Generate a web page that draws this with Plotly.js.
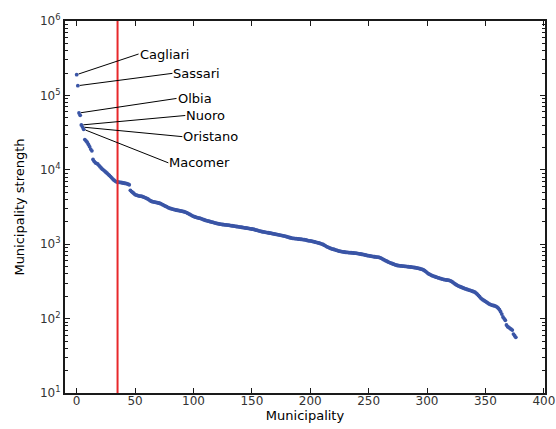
<!DOCTYPE html>
<html>
<head>
<meta charset="utf-8">
<script src="https://cdn.plot.ly/plotly-3.0.1.min.js"></script>
<style>html,body{margin:0;padding:0;background:#fff;}#chart{width:556px;height:429px;}</style>
</head>
<body>
<div id="chart"></div>
<script>
// Municipality strength, sorted in decreasing order (index = rank)
const strength = [
  190000, 135000, 58000, 54000, 40000, 37500, 35000, 25500, 24500, 23500,
  22000, 20500, 19000, 18000, 13800, 13000, 12400, 12200, 12000, 11500,
  11000, 10600, 10200, 9900, 9600, 9300, 9000, 8700, 8400, 8100,
  7800, 7500, 7250, 7050, 6900, 6850, 6800, 6780, 6750, 6700,
  6650, 6600, 6550, 6500, 6400, 6300, 5300, 5100, 4950, 4800,
  4650, 4580, 4520, 4470, 4440, 4420, 4380, 4320, 4260, 4200,
  4120, 4050, 3950, 3850, 3780, 3730, 3700, 3670, 3640, 3610,
  3580, 3550, 3500, 3440, 3370, 3300, 3240, 3190, 3130, 3070,
  3030, 3000, 2970, 2940, 2910, 2880, 2860, 2840, 2820, 2800,
  2780, 2760, 2730, 2700, 2660, 2610, 2560, 2510, 2460, 2410,
  2370, 2340, 2310, 2280, 2260, 2240, 2220, 2190, 2160, 2130,
  2100, 2080, 2060, 2040, 2020, 2000, 1980, 1960, 1940, 1920,
  1900, 1890, 1870, 1860, 1850, 1840, 1830, 1820, 1815, 1810,
  1800, 1790, 1780, 1770, 1760, 1750, 1740, 1730, 1720, 1710,
  1700, 1690, 1680, 1670, 1660, 1650, 1640, 1630, 1620, 1610,
  1600, 1590, 1575, 1560, 1545, 1530, 1515, 1500, 1485, 1470,
  1465, 1455, 1445, 1435, 1425, 1415, 1405, 1395, 1385, 1375,
  1365, 1355, 1345, 1335, 1325, 1315, 1305, 1295, 1285, 1275,
  1260, 1245, 1230, 1220, 1210, 1200, 1195, 1190, 1185, 1180,
  1175, 1170, 1165, 1160, 1155, 1150, 1140, 1130, 1120, 1110,
  1110, 1100, 1090, 1080, 1070, 1060, 1050, 1040, 1030, 1020,
  1005, 990, 970, 950, 930, 915, 900, 885, 870, 860,
  855, 845, 835, 825, 815, 805, 800, 795, 790, 785,
  780, 778, 775, 772, 770, 767, 765, 762, 760, 757,
  753, 748, 743, 738, 733, 728, 722, 716, 710, 704,
  700, 695, 690, 686, 682, 678, 675, 672, 669, 665,
  655, 645, 632, 620, 608, 596, 585, 575, 566, 558,
  550, 542, 534, 527, 521, 517, 514, 512, 510, 508,
  506, 504, 502, 500, 498, 496, 494, 492, 489, 486,
  483, 480, 476, 472, 468, 463, 458, 450, 440, 428,
  415, 403, 395, 388, 381, 375, 370, 365, 360, 356,
  352, 348, 344, 340, 337, 334, 332, 330, 328, 326,
  322, 316, 308, 300, 292, 285, 279, 274, 270, 266,
  262, 258, 254, 251, 248, 245, 242, 239, 236, 233,
  230, 226, 220, 213, 205, 197, 189, 183, 178, 174,
  170, 166, 162, 158, 155, 153, 151, 150, 148, 146,
  143, 138, 132, 124, 115, 105, 100, 95, 82, 78,
  76, 74, 72, 70, 62, 59, 56
];
const rank = strength.map((v, i) => i);

// Labelled municipalities: rank index and label anchor (data coords)
const labelNames = ["Cagliari", "Sassari", "Olbia", "Nuoro", "Oristano", "Macomer"];
const labelRank  = [0, 1, 2, 4, 5, 6];
const labelX     = [53, 82, 85.5, 93, 90.5, 78.5];
const labelY     = [360000, 198000, 91000, 53700, 27900, 12400];

// Threshold line
const thresholdX = 35;

const yTickVals = [10, 100, 1000, 10000, 100000, 1000000];
const yTickText = ["10<sup>1</sup>", "10<sup>2</sup>", "10<sup>3</sup>", "10<sup>4</sup>", "10<sup>5</sup>", "10<sup>6</sup>"];
const yMinorVals = [];
for (let d = 10; d < 1000000; d *= 10) for (let m = 2; m <= 9; m++) yMinorVals.push(d * m);
const xTickVals = [0, 50, 100, 150, 200, 250, 300, 350, 400];

const traces = [
  {
    x: rank, y: strength, type: "scatter", mode: "markers",
    marker: {color: "#3a55a6", size: 3.8, line: {width: 0}},
    hoverinfo: "x+y"
  },
  {
    x: [thresholdX, thresholdX], y: [10, 1000000], type: "scatter", mode: "lines",
    line: {color: "#e8282b", width: 2}, hoverinfo: "skip"
  }
];

const annotations = labelNames.map((name, i) => ({
  x: labelRank[i], y: Math.log10(strength[labelRank[i]]),
  xref: "x", yref: "y",
  ax: labelX[i], ay: Math.log10(labelY[i]),
  axref: "x", ayref: "y",
  text: name, showarrow: true, arrowhead: 0, arrowwidth: 1, arrowcolor: "#000",
  xanchor: "left", yanchor: "middle", standoff: 2, borderpad: 0,
  font: {family: "DejaVu Sans, sans-serif", size: 13, color: "#000"}
}));

const axisCommon = {
  showline: true, linecolor: "#1a1a1a", linewidth: 2, mirror: "allticks",
  ticks: "inside", ticklen: 5, tickwidth: 1, tickcolor: "#1a1a1a",
  showgrid: false, zeroline: false,
  tickfont: {family: "DejaVu Sans, sans-serif", size: 12, color: "#333"}
};

const layout = {
  width: 556, height: 429,
  margin: {l: 65, r: 11, t: 21, b: 36},
  paper_bgcolor: "#fff", plot_bgcolor: "#fff",
  showlegend: false,
  xaxis: Object.assign({}, axisCommon, {
    range: [-10, 401], tickvals: xTickVals, ticklabelstandoff: -4,
    title: {text: "Municipality", standoff: 0, font: {family: "DejaVu Sans, sans-serif", size: 13, color: "#000"}}
  }),
  yaxis: Object.assign({}, axisCommon, {
    type: "log", range: [1, 6], tickvals: yTickVals, ticktext: yTickText,
    minor: {tickmode: "array", tickvals: yMinorVals, ticks: "inside", ticklen: 3, tickcolor: "#1a1a1a", showgrid: false},
    title: {text: "Municipality strength", standoff: 12, font: {family: "DejaVu Sans, sans-serif", size: 13, color: "#000"}}
  }),
  annotations: annotations
};

Plotly.newPlot("chart", traces, layout, {displayModeBar: false, staticPlot: true});
</script>
</body>
</html>
